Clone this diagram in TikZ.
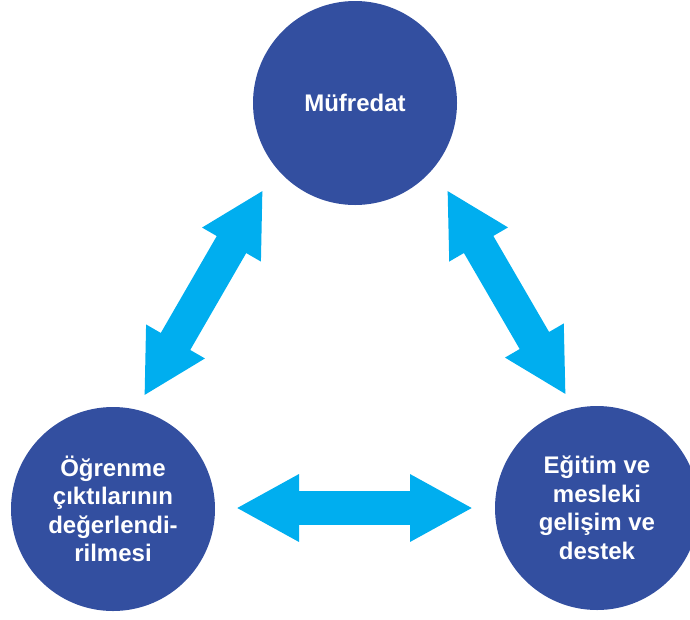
\documentclass[tikz,border=0pt]{standalone}
\usepackage{fontspec}
\setmainfont{Liberation Sans}
\usetikzlibrary{arrows.meta}
\definecolor{cblue}{RGB}{51,79,160}
\definecolor{ccyan}{RGB}{0,174,239}
\begin{document}
\begin{tikzpicture}[x=1pt,y=-1pt,
  circ/.style={circle,fill=cblue,minimum size=204pt,inner sep=0pt,text=white,
    font=\bfseries\fontsize{24}{28.5}\selectfont,align=center},
  fat/.style={draw=ccyan,line width=34pt,
    {Triangle[length=63pt,width=63pt,fill=ccyan]}-{Triangle[length=63pt,width=63pt,fill=ccyan]}}]
\useasboundingbox (0,0) rectangle (690,619);
\clip (0,0) rectangle (690,619);
\node[circ] (muf) at (355,103) {Müfredat};
\node[circ] (ogr) at (113,509) {Öğrenme\\çıktılarının\\değerlendi-\\rilmesi};
\node[circ] (egt) at (597,508) {Eğitim ve\\mesleki\\gelişim ve\\destek};
\coordinate (l1) at (263,190);
\coordinate (l2) at (144,396);
\coordinate (r1) at (447,190);
\coordinate (r2) at (566,395);
\coordinate (h1) at (236,508);
\coordinate (h2) at (473,508);
\draw[fat] (l1) -- (l2);
\draw[fat] (r1) -- (r2);
\draw[fat] (h1) -- (h2);
\end{tikzpicture}
\end{document}
